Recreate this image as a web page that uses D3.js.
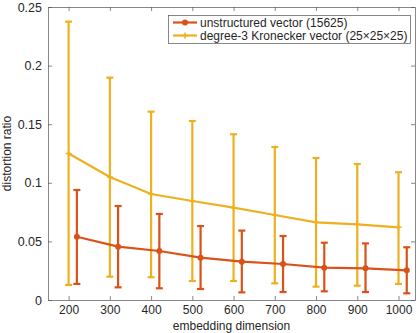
<!DOCTYPE html>
<html>
<head>
<meta charset="utf-8">
<script src="https://cdn.jsdelivr.net/npm/d3@7"></script>
<style>
body { margin: 0; background: #fff; }
text { font-family: "Liberation Sans", Arial, sans-serif; }
</style>
</head>
<body>
<svg id="thesvg" width="420" height="333"></svg>
<script>
// embedding dimensions
var dims = [200, 300, 400, 500, 600, 700, 800, 900, 1000];

// unstructured vector (15625), drawn shifted +20 on x
var redMean = [0.054, 0.0455, 0.0418, 0.0361, 0.0327, 0.0307, 0.0276, 0.027, 0.0253];
var redLo   = [0.0137, 0.0108, 0.0100, 0.0094, 0.0065, 0.0068, 0.0074, 0.0068, 0.0057];
var redHi   = [0.0939, 0.0802, 0.0734, 0.0631, 0.0592, 0.0546, 0.0489, 0.0483, 0.045];

// degree-3 Kronecker vector
var yelMean = [0.125, 0.105, 0.0904, 0.0845, 0.0788, 0.0725, 0.0663, 0.0646, 0.062];
var yelLo   = [0.0128, 0.0199, 0.0194, 0.0162, 0.0162, 0.0142, 0.0114, 0.0122, 0.0137];
var yelHi   = [0.2375, 0.1897, 0.1607, 0.1527, 0.1414, 0.1305, 0.1212, 0.116, 0.109];

var xTicks = [200, 300, 400, 500, 600, 700, 800, 900, 1000];
var yTicks = [0, 0.05, 0.1, 0.15, 0.2, 0.25];
var names = ["unstructured vector (15625)", "degree-3 Kronecker vector (25\u00d725\u00d725)"];
var colors = ["#D95319", "#EDB120"];
var offsets = [20, 0];

var svg = d3.select("#thesvg");
var pLeft = 48, pRight = 415, pTop = 7, pBottom = 300;

var xScale = d3.scaleLinear().domain([150, 1040]).range([pLeft, pRight]);
var yScale = d3.scaleLinear().domain([0, 0.25]).range([pBottom, pTop]);

var axisColor = "#262626";
var tickLen = 4;

// axes with inward ticks on all sides
svg.append("g")
    .attr("transform", `translate(0, ${pBottom})`)
    .call(d3.axisBottom(xScale).tickValues(xTicks).tickSizeInner(-tickLen).tickSizeOuter(0).tickPadding(5).tickFormat(d => String(d)))
    .call(g => g.selectAll("text").style("font-size", "12px").attr("fill", axisColor));
svg.append("g")
    .attr("transform", `translate(0, ${pTop})`)
    .call(d3.axisTop(xScale).tickValues(xTicks).tickSizeInner(-tickLen).tickSizeOuter(0).tickFormat(""));
svg.append("g")
    .attr("transform", `translate(${pLeft}, 0)`)
    .call(d3.axisLeft(yScale).tickValues(yTicks).tickSizeInner(-tickLen).tickSizeOuter(0).tickPadding(6).tickFormat(d => String(d)))
    .call(g => g.selectAll("text").style("font-size", "12.5px").attr("fill", axisColor));
svg.append("g")
    .attr("transform", `translate(${pRight}, 0)`)
    .call(d3.axisRight(yScale).tickValues(yTicks).tickSizeInner(-tickLen).tickSizeOuter(0).tickFormat(""));

svg.selectAll(".domain, .tick line").attr("stroke", "#555").attr("stroke-width", 0.7);

svg.append("text")
    .attr("x", (pLeft + pRight) / 2).attr("y", 330)
    .attr("text-anchor", "middle")
    .style("font-size", "12px").attr("fill", axisColor)
    .text("embedding dimension");
svg.append("text")
    .attr("transform", `translate(11, ${(pTop + pBottom) / 2}) rotate(-90)`)
    .attr("text-anchor", "middle")
    .style("font-size", "12px").attr("fill", axisColor)
    .text("distortion ratio");

var series = [
    {mean: redMean, lo: redLo, hi: redHi},
    {mean: yelMean, lo: yelLo, hi: yelHi}
];

// draw yellow first so red sits on top
[1, 0].forEach(function(s) {
    var d = series[s];
    var col = colors[s];
    var g = svg.append("g");
    var pts = dims.map((x, i) => [xScale(x + offsets[s]), yScale(d.mean[i])]);
    g.append("path")
        .attr("d", d3.line()(pts))
        .attr("fill", "none").attr("stroke", col).attr("stroke-width", 2.2);
    for (var i = 0; i < dims.length; i++) {
        var cx = xScale(dims[i] + offsets[s]);
        g.append("line")
            .attr("x1", cx).attr("x2", cx)
            .attr("y1", yScale(d.lo[i])).attr("y2", yScale(d.hi[i]))
            .attr("stroke", col).attr("stroke-width", 2.2);
        [d.lo[i], d.hi[i]].forEach(function(v) {
            g.append("line")
                .attr("x1", cx - 3.5).attr("x2", cx + 3.5)
                .attr("y1", yScale(v)).attr("y2", yScale(v))
                .attr("stroke", col).attr("stroke-width", 2.2);
        });
        if (s == 0) {
            g.append("circle").attr("cx", cx).attr("cy", yScale(d.mean[i]))
                .attr("r", 3).attr("fill", col);
        } else {
            g.append("path")
                .attr("d", `M${cx - 3},${yScale(d.mean[i])}h6M${cx},${yScale(d.mean[i]) - 3}v6`)
                .attr("stroke", col).attr("stroke-width", 1.5);
        }
    }
});

// legend
var leg = svg.append("g");
leg.append("rect")
    .attr("x", 168.5).attr("y", 15.5).attr("width", 242).attr("height", 28)
    .attr("fill", "#fff").attr("stroke", "#555").attr("stroke-width", 0.7);
for (let j = 0; j < names.length; j++) {
    var ly = 22.5 + j * 13;
    leg.append("line")
        .attr("x1", 173).attr("x2", 197).attr("y1", ly).attr("y2", ly)
        .attr("stroke", colors[j]).attr("stroke-width", 2.2);
    if (j == 0) {
        leg.append("circle").attr("cx", 185).attr("cy", ly).attr("r", 3).attr("fill", colors[j]);
    } else {
        leg.append("path").attr("d", `M182,${ly}h6M185,${ly - 3}v6`)
            .attr("stroke", colors[j]).attr("stroke-width", 1.5);
    }
    leg.append("text")
        .attr("x", 200).attr("y", ly + 4)
        .style("font-size", "12px").attr("fill", axisColor)
        .text(names[j]);
}
</script>
</body>
</html>
